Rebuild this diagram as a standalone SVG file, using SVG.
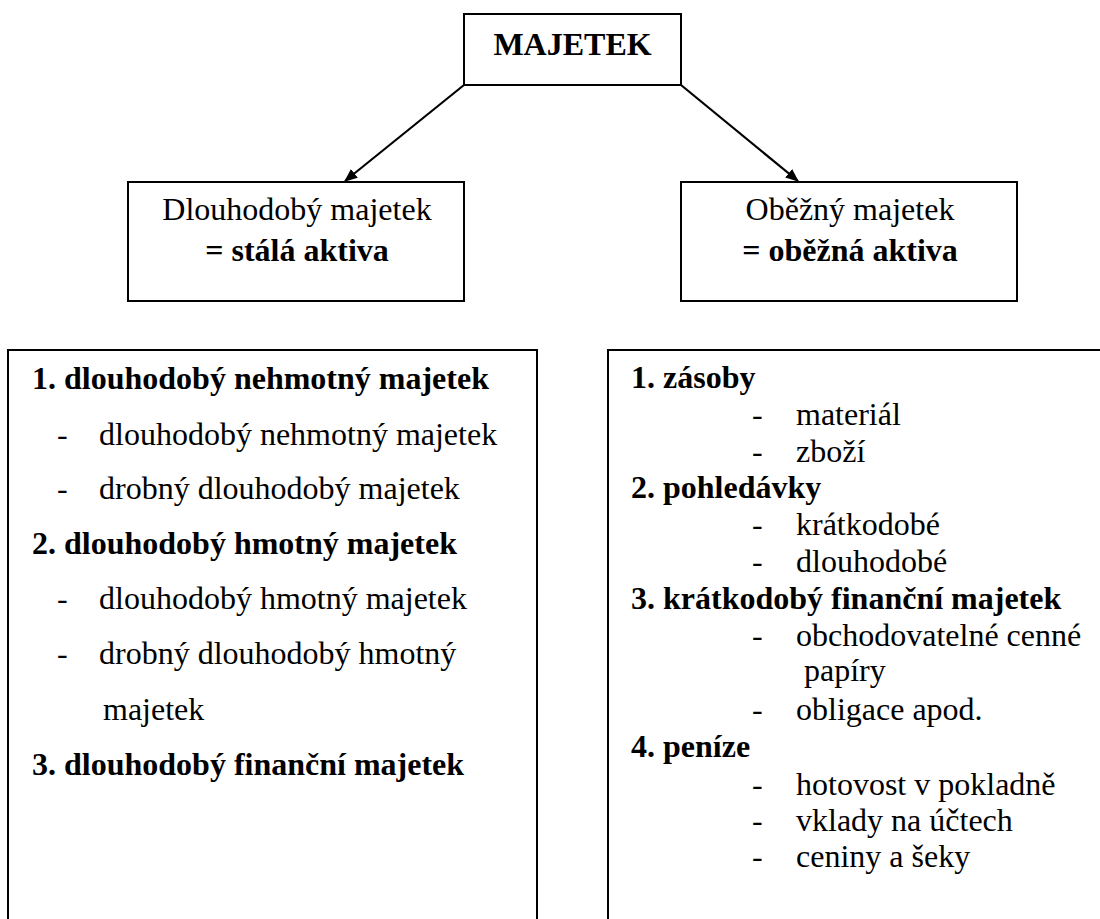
<svg xmlns="http://www.w3.org/2000/svg" width="1100" height="919" viewBox="0 0 1100 919">
  <style>
    .box { fill: #ffffff; stroke: #000000; stroke-width: 2; }
    .frame { fill: none; stroke: #000000; stroke-width: 2; }
    text { font-family: 'Liberation Serif', 'DejaVu Serif', serif; font-size: 32px; fill: #000000; }
    .b { font-weight: bold; }
    .c { text-anchor: middle; }
    .conn { stroke: #000000; stroke-width: 2.2; fill: none; marker-end: url(#arrow); }
  </style>
  <defs>
    <marker id="arrow" viewBox="0 0 12 10" refX="11" refY="5" markerWidth="6" markerHeight="5" markerUnits="strokeWidth" orient="auto">
      <path d="M0,0 L12,5 L0,10 Z" fill="#000000"/>
    </marker>
  </defs>
  <rect width="1100" height="919" fill="#ffffff"/>

  <!-- connectors -->
  <g id="connectors">
    <line class="conn" x1="464" y1="85" x2="345" y2="181"/>
    <line class="conn" x1="681" y1="85" x2="798" y2="181"/>
  </g>

  <!-- root -->
  <g id="majetek">
    <rect class="box" x="464" y="14" width="217" height="71"/>
    <text class="b c" x="572.5" y="55">MAJETEK</text>
  </g>

  <!-- long-term assets -->
  <g id="dlouhodoby">
    <rect class="box" x="128" y="182" width="336" height="119"/>
    <text class="c" x="297" y="220">Dlouhodobý majetek</text>
    <text class="c b" x="297" y="261">= stálá aktiva</text>
  </g>

  <!-- current assets -->
  <g id="obezny">
    <rect class="box" x="681" y="182" width="336" height="119"/>
    <text class="c" x="850" y="220">Oběžný majetek</text>
    <text class="c b" x="850" y="261">= oběžná aktiva</text>
  </g>

  <!-- long-term assets list -->
  <g id="seznam-dlouhodoby">
    <path class="frame" d="M8,930 V350 H537 V930"/>
    <text class="b" x="32" y="389">1. dlouhodobý nehmotný majetek</text>
    <text x="57" y="445">-</text>
    <text x="99" y="445">dlouhodobý nehmotný majetek</text>
    <text x="57" y="499">-</text>
    <text x="99" y="499">drobný dlouhodobý majetek</text>
    <text class="b" x="32" y="554">2. dlouhodobý hmotný majetek</text>
    <text x="57" y="609">-</text>
    <text x="99" y="609">dlouhodobý hmotný majetek</text>
    <text x="57" y="664">-</text>
    <text x="99" y="664">drobný dlouhodobý hmotný</text>
    <text x="103" y="720">majetek</text>
    <text class="b" x="32" y="775">3. dlouhodobý finanční majetek</text>
  </g>

  <!-- current assets list -->
  <g id="seznam-obezny">
    <path class="frame" d="M1110,350 H608 V930"/>
    <text class="b" x="631" y="388">1. zásoby</text>
    <text x="752" y="425">-</text>
    <text x="796" y="425">materiál</text>
    <text x="752" y="462">-</text>
    <text x="796" y="462">zboží</text>
    <text class="b" x="631" y="498">2. pohledávky</text>
    <text x="752" y="535">-</text>
    <text x="796" y="535">krátkodobé</text>
    <text x="752" y="572">-</text>
    <text x="796" y="572">dlouhodobé</text>
    <text class="b" x="631" y="609">3. krátkodobý finanční majetek</text>
    <text x="752" y="646">-</text>
    <text x="796" y="646">obchodovatelné cenné</text>
    <text x="804" y="681">papíry</text>
    <text x="752" y="720">-</text>
    <text x="796" y="720">obligace apod.</text>
    <text class="b" x="631" y="757">4. peníze</text>
    <text x="752" y="795">-</text>
    <text x="796" y="795">hotovost v pokladně</text>
    <text x="752" y="831">-</text>
    <text x="796" y="831">vklady na účtech</text>
    <text x="752" y="867">-</text>
    <text x="796" y="867">ceniny a šeky</text>
  </g>
</svg>
